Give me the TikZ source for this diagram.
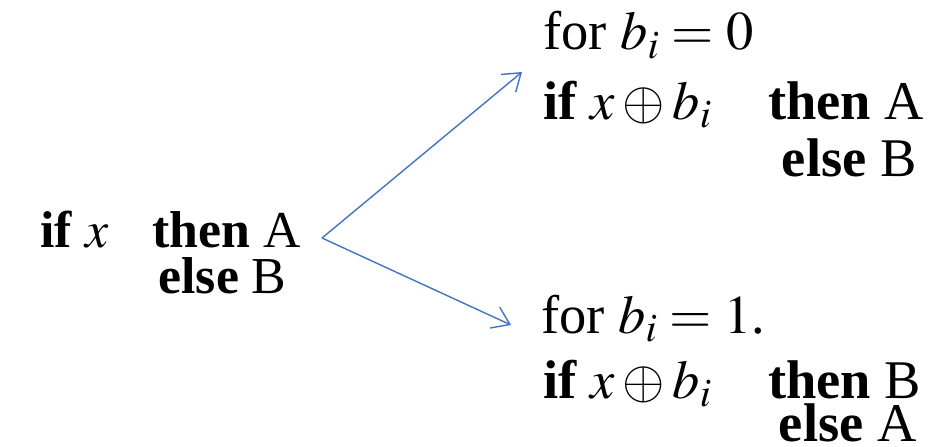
\documentclass[tikz,border=0pt]{standalone}
\usepackage{mathptmx}
\usepackage{fontspec}
\setmainfont{Liberation Serif}
\usetikzlibrary{arrows.meta, positioning, calc}
\definecolor{linkblue}{RGB}{68,114,196}

\begin{document}
\begin{tikzpicture}[x=0.02cm, y=-0.02cm,
  txt/.style={inner sep=0pt, anchor=base west, font=\fontsize{29.5}{31}\selectfont},
  bigtxt/.style={txt, font=\fontsize{31}{33}\selectfont},
  link/.style={draw=linkblue, line width=0.8pt, -{Straight Barb[length=3.3mm,width=4.6mm]}}]

\useasboundingbox (0,0) rectangle (935,446);

% Programa original
\node[txt] (lif) at (40,247) {\textbf{if} $x$};
\node[txt] (lthen) at (152,247) {\textbf{then} A};
\node[txt, anchor=base] (lelse) at ($(lthen.base)+(-4,46)$) {\textbf{else} B};

% Caso b_i = 0
\node[bigtxt] (for0) at (543,50) {for $b_i=0$};
\node[bigtxt] (rif0) at (543,119) {\textbf{if} $x\oplus b_i$};
\node[bigtxt] (rthen0) at (768,119) {\textbf{then} A};
\node[bigtxt, anchor=base] (relse0) at ($(rthen0.base)+(3,57)$) {\textbf{else} B};

% Caso b_i = 1
\node[bigtxt] (for1) at (541,333) {for $b_i=1$.};
\node[bigtxt] (rif1) at (543,398) {\textbf{if} $x\oplus b_i$};
\node[bigtxt] (rthen1) at (768,398) {\textbf{then} B};
\node[bigtxt, anchor=base] (relse1) at ($(rthen1.base)+(3,43)$) {\textbf{else} A};

% Flechas
\coordinate (fork) at (322,238);
\coordinate (tip0) at ($(for0.base west)+(-21,22)$);
\coordinate (tip1) at ($(for1.base west)+(-30,-8)$);
\draw[link] (fork) -- (tip0);
\draw[link] (fork) -- (tip1);

\end{tikzpicture}
\end{document}
